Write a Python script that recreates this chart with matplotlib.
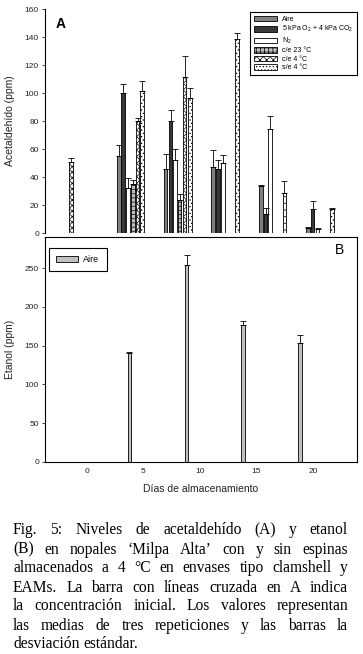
import matplotlib
matplotlib.use("Agg")
import matplotlib.pyplot as plt

plt.rcParams['font.family'] = ['Liberation Sans', 'DejaVu Sans']
plt.rcParams['mathtext.default'] = 'regular'
plt.rcParams['hatch.linewidth'] = 0.5

# --- Panel A: acetaldehido (ppm), bar positions in days ---
ini_x = [-1.42]
ini_y = [50.5]
ini_e = [2.8]

aire_x = [2.83, 6.95, 11.15, 15.40, 19.56]
aire_y = [54.7, 45.7, 46.9, 33.6, 3.6]
aire_e = [8.1, 10.5, 12.6, 0.4, 0.5]

kpa_x = [3.19, 7.40, 11.59, 15.80, 19.97]
kpa_y = [99.8, 79.9, 45.7, 13.7, 16.8]
kpa_e = [6.8, 8.0, 6.2, 4.5, 6.4]

n2_x = [3.63, 7.80, 12.04, 16.20, 20.41]
n2_y = [32.0, 52.1, 50.0, 74.2, 2.6]
n2_e = [7.0, 8.1, 5.5, 9.7, 0.7]

ce23_x = [4.07, 8.21]
ce23_y = [34.8, 23.7]
ce23_e = [3.4, 4.5]

ce4_x = [4.48, 8.64]
ce4_y = [79.9, 111.6]
ce4_e = [1.9, 14.7]

se4_x = [4.85, 9.13, 13.26, 17.46, 21.68]
se4_y = [101.7, 96.7, 138.9, 28.4, 16.8]
se4_e = [7.1, 6.9, 3.8, 9.0, 1.4]

# --- Panel B: etanol (ppm) ---
et_x = [3.76, 8.83, 13.79, 18.83]
et_y = [140.6, 253.9, 176.6, 153.4]
et_e = [0.8, 12.9, 5.2, 10.3]

x_ticks = [0, 5, 10, 15, 20]

caption = [
    "Fig. 5: Niveles de acetaldehído (A) y etanol",
    "(B) en nopales ‘Milpa Alta’ con y sin espinas",
    "almacenados a 4 °C en envases tipo clamshell y",
    "EAMs. La barra con líneas cruzada en A indica",
    "la concentración inicial. Los valores representan",
    "las medias de tres repeticiones y las barras la",
    "desviación estándar.",
]

W, H = 363, 654
fig = plt.figure(figsize=(W / 100, H / 100), dpi=100)

def fx(px):
    return px / W

def fy(py):
    return 1 - py / H

left, right = 44.5, 357
axA = fig.add_axes([fx(left), fy(233), (right - left) / W, 224 / H])
axB = fig.add_axes([fx(left), fy(462), (right - left) / W, 225 / H])

bw = 0.30
xlim = (-3.76, 23.89)

def bars(ax, x, y, e, label, **kw):
    ax.bar(x, y, width=bw, edgecolor='black', linewidth=0.6, label=label, **kw)
    ax.errorbar(x, y, yerr=[[0] * len(e), e], fmt='none', ecolor='black',
                elinewidth=0.6, capsize=2.3, capthick=0.6)

bars(axA, ini_x, ini_y, ini_e, None, color='white', hatch='xxxxxx')
bars(axA, aire_x, aire_y, aire_e, 'Aire', color='#808080')
bars(axA, kpa_x, kpa_y, kpa_e, '5 kPa O$_2$ + 4 kPa CO$_2$', color='#383838')
bars(axA, n2_x, n2_y, n2_e, 'N$_2$', color='white')
bars(axA, ce23_x, ce23_y, ce23_e, 'c/e 23 °C', color='#c0c0c0', hatch='++++')
bars(axA, ce4_x, ce4_y, ce4_e, 'c/e 4 °C', color='white', hatch='xxxxx')
bars(axA, se4_x, se4_y, se4_e, 's/e 4 °C', color='white', hatch='.....')

axA.set_xlim(*xlim)
axA.set_ylim(0, 160)
axA.set_yticks(range(0, 161, 20))
axA.set_xticks([])
for s in ['top', 'right', 'bottom']:
    axA.spines[s].set_visible(False)
axA.spines['left'].set_linewidth(0.8)
axA.tick_params(axis='y', direction='out', length=2.5, width=0.6, pad=1.5,
                labelsize=6, colors='#222222')
axA.set_ylabel('Acetaldehído (ppm)', fontsize=7.5, color='#222222')
axA.yaxis.set_label_coords((15 - left) / (right - left), 0.5)
axA.text(fx(60.5), fy(24), 'A', transform=fig.transFigure, fontsize=10,
         fontweight='bold', ha='center', va='center')

legA = axA.legend(loc='upper right', bbox_to_anchor=(fx(357), fy(12)),
                  bbox_transform=fig.transFigure, borderaxespad=0,
                  fontsize=5, handlelength=3.3, handleheight=0.85,
                  handletextpad=0.7, labelspacing=0.18, borderpad=0.55,
                  fancybox=False, framealpha=1, edgecolor='black')
legA.get_frame().set_linewidth(0.8)

bars(axB, et_x, et_y, et_e, 'Aire', color='#c0c0c0')
axB.set_xlim(*xlim)
axB.set_ylim(0, 290)
axB.set_yticks(range(0, 251, 50))
axB.set_xticks(x_ticks)
for s in axB.spines.values():
    s.set_linewidth(0.8)
axB.tick_params(axis='y', direction='out', length=2.5, width=0.6, pad=1.5,
                labelsize=6, colors='#222222')
axB.tick_params(axis='x', length=0, pad=4.5, labelsize=6, colors='#222222')
axB.set_ylabel('Etanol (ppm)', fontsize=7.5, color='#222222')
axB.yaxis.set_label_coords((15 - left) / (right - left), 0.5)
axB.set_xlabel('Días de almacenamiento', fontsize=7.5, color='#222222',
               labelpad=6)
axB.text(fx(340), fy(250), 'B', transform=fig.transFigure, fontsize=10,
         ha='center', va='center')

legB = axB.legend(loc='upper left', bbox_to_anchor=(fx(49), fy(248)),
                  bbox_transform=fig.transFigure, borderaxespad=0,
                  fontsize=6.5, handlelength=2.4, handleheight=0.7,
                  handletextpad=0.6, borderpad=0.8, fancybox=False,
                  framealpha=1, edgecolor='black')
legB.get_frame().set_linewidth(0.8)

# caption, justified between two margins
cap_font = dict(family=['Liberation Serif', 'DejaVu Serif'], fontsize=11.2)
x0, x1 = 13, 348
base0, step = 534.5, 19.0
renderer = fig.canvas.get_renderer()
for i, line in enumerate(caption):
    yb = fy(base0 + i * step)
    words = line.split()
    texts = [fig.text(0, yb, w, va='baseline', ha='left', **cap_font)
             for w in words]
    widths = [t.get_window_extent(renderer).width for t in texts]
    if i == len(caption) - 1:
        gap = 3.6
    else:
        gap = (x1 - x0 - sum(widths)) / (len(words) - 1)
    x = x0
    for t, w in zip(texts, widths):
        t.set_x(fx(x))
        x += w + gap

fig.savefig('out.png', dpi=100)
